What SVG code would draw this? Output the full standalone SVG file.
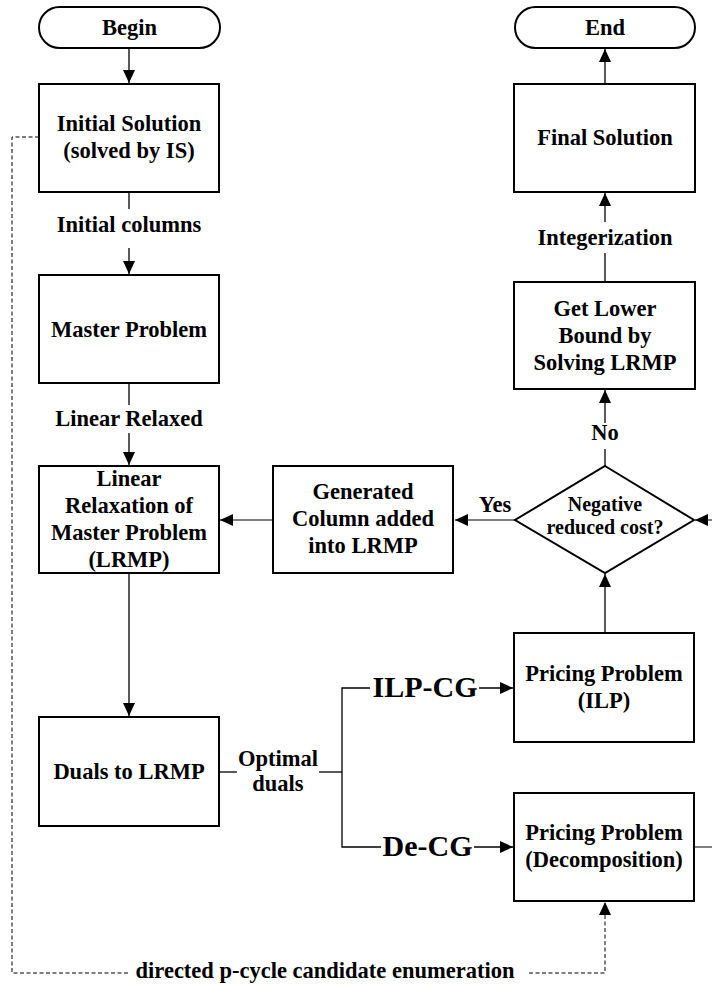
<svg xmlns="http://www.w3.org/2000/svg" width="712" height="988" viewBox="0 0 712 988">
<style>
.box{fill:#fff;stroke:#000;stroke-width:2}
.t{font-family:"Liberation Serif","Times New Roman",serif;font-weight:bold;font-size:22.5px;fill:#000;text-anchor:middle}
.s{font-size:20px}
.b{font-size:30px}
.c{fill:none;stroke:#000;stroke-width:1.3}
.g{fill:none;stroke:#555;stroke-width:1.5}
.d{fill:none;stroke:#000;stroke-width:1;stroke-dasharray:4,2.5}
</style>
<defs>
<marker id="ah" markerUnits="userSpaceOnUse" markerWidth="14" markerHeight="12" refX="13" refY="6" orient="auto">
<path d="M0,0 L13,6 L0,12 z" fill="#000"/>
</marker>
</defs>
<rect width="712" height="988" fill="#fff"/>
<g id="connectors">
<line class="c" x1="129" y1="48" x2="129" y2="83" marker-end="url(#ah)"/>
<line class="c" x1="129" y1="192" x2="129" y2="209"/>
<line class="c" x1="129" y1="248" x2="129" y2="274" marker-end="url(#ah)"/>
<line class="c" x1="129" y1="383" x2="129" y2="405"/>
<line class="c" x1="129" y1="433" x2="129" y2="465" marker-end="url(#ah)"/>
<line class="c" x1="129" y1="573" x2="129" y2="716" marker-end="url(#ah)"/>
<line class="g" x1="273" y1="520" x2="220" y2="520" marker-end="url(#ah)"/>
<line class="g" x1="515" y1="520" x2="455" y2="520" marker-end="url(#ah)"/>
<line class="g" x1="712" y1="520" x2="695" y2="520" marker-end="url(#ah)"/>
<line class="g" x1="694" y1="847" x2="712" y2="847"/>
<line class="c" x1="605" y1="466" x2="605" y2="449"/>
<line class="c" x1="605" y1="423" x2="605" y2="390" marker-end="url(#ah)"/>
<line class="c" x1="605" y1="282" x2="605" y2="253"/>
<line class="c" x1="605" y1="222" x2="605" y2="193" marker-end="url(#ah)"/>
<line class="c" x1="605" y1="84" x2="605" y2="49" marker-end="url(#ah)"/>
<line class="c" x1="605" y1="633" x2="605" y2="574" marker-end="url(#ah)"/>
<line class="c" x1="219" y1="772" x2="237" y2="772"/>
<line class="c" x1="319" y1="772" x2="342" y2="772"/>
<polyline class="c" points="370,688 342,688 342,847 381,847"/>
<line class="c" x1="479" y1="688" x2="513" y2="688" marker-end="url(#ah)"/>
<line class="c" x1="474" y1="847" x2="513" y2="847" marker-end="url(#ah)"/>
<polyline class="d" points="39,137 12,137 12,973 128,973"/>
<polyline class="d" points="529,973 605,973 605,903"/>
<path d="M599,915 L605,902 L611,915 z" fill="#000"/>
</g>
<g id="begin"><rect class="box" x="39" y="7" width="181" height="41" rx="20.5"/><text class="t" x="129.5" y="35">Begin</text></g>
<g id="end"><rect class="box" x="515" y="7" width="180" height="41" rx="20.5"/><text class="t" x="605" y="35">End</text></g>
<g id="initial-solution"><rect class="box" x="39" y="84" width="180" height="108"/><text class="t" x="129" y="131">Initial Solution</text><text class="t" x="129" y="158">(solved by IS)</text></g>
<g id="label-initial-columns"><text class="t" x="129" y="232">Initial columns</text></g>
<g id="master-problem"><rect class="box" x="39" y="275" width="180" height="108"/><text class="t" x="129" y="337">Master Problem</text></g>
<g id="label-linear-relaxed"><text class="t" x="129" y="426">Linear Relaxed</text></g>
<g id="lrmp"><rect class="box" x="39" y="466" width="180" height="107"/><text class="t" x="129" y="486">Linear</text><text class="t" x="129" y="513">Relaxation of</text><text class="t" x="129" y="540">Master Problem</text><text class="t" x="129" y="567">(LRMP)</text></g>
<g id="generated-column"><rect class="box" x="273" y="466" width="180" height="107"/><text class="t" x="363" y="499">Generated</text><text class="t" x="363" y="526">Column added</text><text class="t" x="363" y="553">into LRMP</text></g>
<g id="decision"><polygon class="box" points="605,466 694,520 605,573 515,520"/><text class="t s" x="605" y="511">Negative</text><text class="t s" x="605" y="534">reduced cost?</text></g>
<g id="label-yes"><text class="t" x="495" y="512">Yes</text></g>
<g id="label-no"><text class="t" x="605" y="440">No</text></g>
<g id="lower-bound"><rect class="box" x="514" y="282" width="181" height="107"/><text class="t" x="605" y="316">Get Lower</text><text class="t" x="605" y="343">Bound by</text><text class="t" x="605" y="370">Solving LRMP</text></g>
<g id="label-integerization"><text class="t" x="605" y="245">Integerization</text></g>
<g id="final-solution"><rect class="box" x="514" y="84" width="181" height="108"/><text class="t" x="605" y="145">Final Solution</text></g>
<g id="pricing-ilp"><rect class="box" x="514" y="633" width="180" height="109"/><text class="t" x="604" y="681">Pricing Problem</text><text class="t" x="604" y="708">(ILP)</text></g>
<g id="pricing-decomposition"><rect class="box" x="514" y="793" width="180" height="108"/><text class="t" x="604" y="840">Pricing Problem</text><text class="t" x="604" y="867">(Decomposition)</text></g>
<g id="duals"><rect class="box" x="39" y="717" width="180" height="109"/><text class="t" x="129" y="779">Duals to LRMP</text></g>
<g id="label-optimal-duals"><text class="t" x="278" y="766">Optimal</text><text class="t" x="278" y="791">duals</text></g>
<g id="label-ilp-cg"><text class="t b" x="425" y="697">ILP-CG</text></g>
<g id="label-de-cg"><text class="t b" x="427.5" y="856">De-CG</text></g>
<g id="label-enumeration"><text class="t" x="325" y="978">directed p-cycle candidate enumeration</text></g>
</svg>
